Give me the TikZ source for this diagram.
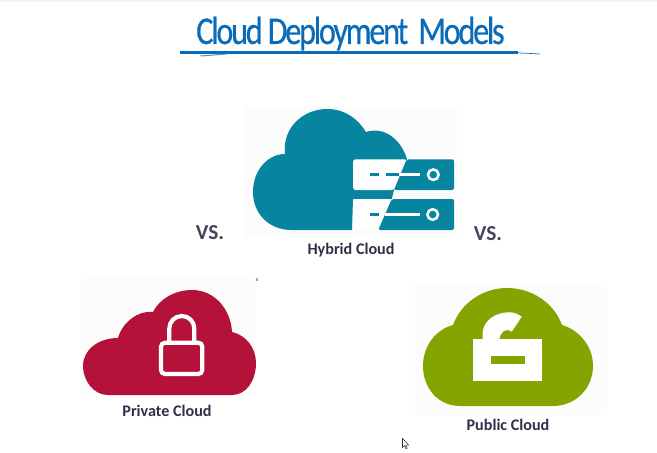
\documentclass[tikz,border=0pt]{standalone}
\usepackage{fontspec}
\setmainfont{Carlito}
\newfontfamily\titlefont[LetterSpace=-7,FakeBold=0.5]{Carlito}
\usetikzlibrary{shapes,arrows}
\definecolor{hybridteal}{HTML}{0684A0}
\definecolor{privred}{HTML}{B5123A}
\definecolor{pubgreen}{HTML}{84A500}
\definecolor{labeldark}{HTML}{2E3047}
\definecolor{titleblue}{HTML}{0A6BB8}
\definecolor{photobg}{HTML}{FBFCFB}
\tikzset{label text/.style={font=\bfseries\fontsize{12.1}{14}\selectfont, text=labeldark, inner sep=0pt},
vs text/.style={font=\bfseries\fontsize{16}{18}\selectfont, text=labeldark!90, inner sep=0pt}}

\begin{document}
\begin{tikzpicture}[x=0.75pt,y=-0.75pt]
\useasboundingbox (0,0) rectangle (657,453);
\fill [white] (0,0) rectangle (657,453);
\fill [black!5] (0,0) rectangle (657,2);

% Title
\node [font=\titlefont\fontsize{29.5}{32}\selectfont, text=titleblue, inner sep=0pt, xscale=0.82] (title) at (350.5,33.5) {Cloud Deployment\ \ Models};
\fill [titleblue] (180,51.2) rectangle (518,54.2);
\draw [titleblue, line width=0.5pt] (518,52.8)--(540,54);
\fill [titleblue!70] (200,55.5)--(227,53.5)--(227,54.5)--(201,56.5)--cycle;

% Hybrid
\fill [photobg] (244,106) rectangle (457,238);
\fill [hybridteal] (352,230)--(292,230) .. controls (268,230) and (253,213) .. (253,192)
 .. controls (253,170) and (268,154) .. (285,154) .. controls (282,128) and (303,109) .. (327,109)
 .. controls (345,109) and (358,119) .. (366,132) .. controls (385,126) and (401,140) .. (407,159)
 --(394,190)--(391.7,199)--(353,199)--cycle;
\fill [white, rounded corners=2pt] (353,159.3)--(407,159.3)--(394,190)--(353,190)--cycle;
\fill [white, rounded corners=2pt] (353,199)--(391.7,199)--(378.3,230)--(353,230)--cycle;
\fill [hybridteal, rounded corners=1.5pt] (406.7,159.3)--(454,159.3)--(454,190)--(394,190)--cycle;
\fill [hybridteal, rounded corners=1.5pt] (391.7,199)--(454,199)--(454,230)--(378.3,230)--cycle;
% dashes and rings
\draw [hybridteal, line width=1.6pt] (370,174.5)--(379,174.5);
\draw [hybridteal, line width=1.6pt] (386,174.5)--(399,174.5);
\draw [white, line width=1.6pt] (399,174.5)--(420,174.5);
\draw [hybridteal, line width=1.6pt] (370,214.5)--(378.5,214.5);
\draw [white, line width=1.6pt] (385,214.5)--(420,214.5);
\draw [white, line width=1.9pt] (433.3,174.7) circle (5.3);
\draw [white, line width=1.9pt] (432.7,214.5) circle (5.3);
\node [label text] (hybrid) at (351,250) {Hybrid Cloud};

% VS
\node [vs text] (vsleft) at (210,233) {VS.};
\node [vs text] (vsright) at (488,234) {VS.};

% Private
\fill [photobg] (81,278) rectangle (255,395);
\fill [privred] (108,395) .. controls (93,395) and (83,380) .. (83,366)
 .. controls (83,350) and (98,338) .. (118,338) .. controls (122,323) and (138,310) .. (153,312)
 .. controls (160,298) and (176,290) .. (192,290) .. controls (215,290) and (231,310) .. (232,332)
 .. controls (246,335) and (256,348) .. (256,363) .. controls (256,381) and (246,395) .. (232,395)--cycle;
\draw [white, line width=3.1pt, rounded corners=3pt] (161,342.7) rectangle (202.3,374);
\draw [white, line width=3.1pt] (169.3,342.7)--(169.3,328.5) arc (180:360:12.5)--(194.3,342.7);
\fill [black!35] (256,278) rectangle (258,281);
\node [label text] (private) at (167,411) {Private Cloud};

% Public
\fill [photobg] (415,282) rectangle (607,415);
\fill [pubgreen] (460,406) .. controls (438,406) and (423,388) .. (423,366)
 .. controls (423,345) and (437,329) .. (453,325) .. controls (461,303) and (483,288) .. (507,288)
 .. controls (532,288) and (554,303) .. (562,325) .. controls (579,330) and (593,346) .. (593,366)
 .. controls (593,388) and (576,406) .. (553,406)--cycle;
\fill [white] (473.3,339) rectangle (541.7,381);
\fill [pubgreen] (490.7,355.7) rectangle (525,364.3);
\fill [white] (482.7,340)--(482.7,332) .. controls (484,320) and (496,312) .. (510,312.3)
 .. controls (514,312.3) and (518,314) .. (521.7,316.7)--(511.7,331.7)
 .. controls (505,327) and (500,333) .. (499,340)--cycle;
\node [label text] (public) at (508,425) {Public Cloud};

% cursor
\draw [labeldark, fill=white, line width=0.4pt] (402.5,438.5)--(402.5,447.5)--(404.6,445.6)--(406,448.8)--(407.2,448.2)--(405.9,445.2)--(408.6,445)--cycle;
\end{tikzpicture}
\end{document}
